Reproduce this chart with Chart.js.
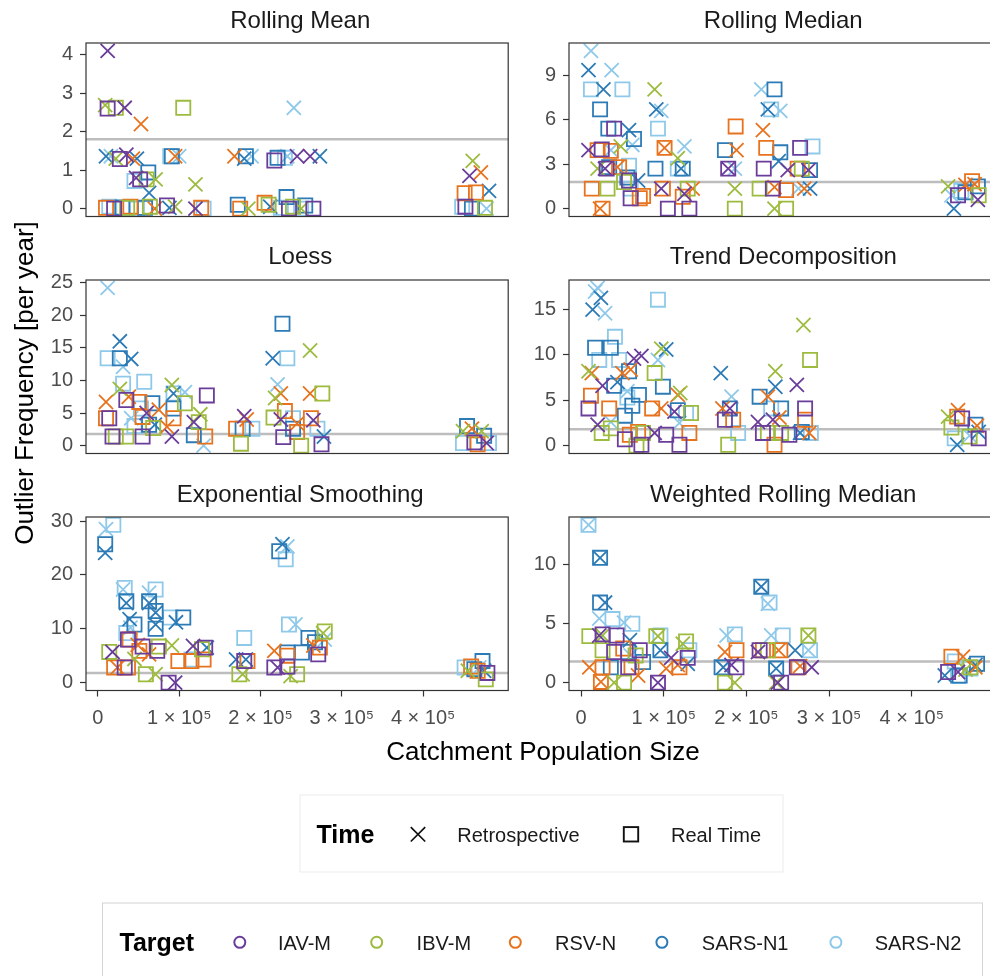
<!DOCTYPE html>
<html>
<head>
<meta charset="utf-8">
<title>Outlier Frequency by Catchment Population Size</title>
<script src="https://cdn.jsdelivr.net/npm/chart.js@4.4.1/dist/chart.umd.min.js"></script>
<style>
  html, body { margin: 0; padding: 0; background: #ffffff; }
  body { position: relative; width: 990px; height: 976px; overflow: hidden;
         font-family: "Liberation Sans", Arial, Helvetica, sans-serif; }
  .panel { position: absolute; }
  .panel canvas { display: block; }
  #overlay { position: absolute; left: 0; top: 0; pointer-events: none; }
</style>
</head>
<body>
<div id="panels"></div>
<svg id="overlay" width="990" height="976" xmlns="http://www.w3.org/2000/svg"></svg>
<script>
// ---------------------------------------------------------------------------
// Data
// ---------------------------------------------------------------------------
const targets = ['IAV-M', 'IBV-M', 'RSV-N', 'SARS-N1', 'SARS-N2'];
const times = ['Retrospective', 'Real Time'];
const methods = ['Rolling Mean', 'Rolling Median', 'Loess', 'Trend Decomposition',
                 'Exponential Smoothing', 'Weighted Rolling Median'];

// Reference outlier rate drawn as a horizontal line in every panel
const REFERENCE_RATE = 1.8;

// Axis ticks
const xTickValues = [0, 100000, 200000, 300000, 400000];
const xTickLabels = ['0', '1 \u00d7 10\u2075', '2 \u00d7 10\u2075', '3 \u00d7 10\u2075', '4 \u00d7 10\u2075'];
const yTickValues = [
  [0, 1, 2, 3, 4],
  [0, 3, 6, 9],
  [0, 5, 10, 15, 20, 25],
  [0, 5, 10, 15],
  [0, 10, 20, 30],
  [0, 5, 10]
];

// Rows: [target index, time index (0 retrospective, 1 real time),
//        catchment population (thousands), outliers per year]
const rollingMean = [
  [0,0,12,4.1],[1,0,9,2.69],[0,1,12,2.6],[1,1,22,2.62],[0,0,33,2.62],[1,1,105,2.62],
  [2,0,53,2.2],[4,0,241,2.62],
  [3,0,10,1.36],[4,0,16,1.36],[0,1,27,1.29],[0,0,35,1.4],[2,0,43,1.3],[3,0,48,1.3],
  [1,0,22,1.3],[3,1,91,1.36],[4,1,89,1.36],[2,0,95,1.36],[4,0,100,1.36],[2,0,168,1.36],
  [3,1,182,1.36],[4,0,189,1.36],[3,0,180,1.3],[0,1,217,1.25],[3,1,221,1.32],[4,1,230,1.32],
  [4,0,233,1.36],[0,0,245,1.36],[0,0,261,1.36],[3,0,273,1.36],
  [4,1,45,0.72],[0,1,52,0.76],[1,1,60,0.76],[3,1,62,0.94],[1,0,71,0.76],[3,0,63,0.41],
  [0,0,47,0.8],[1,0,120,0.63],
  [2,1,10,0.02],[4,1,14,0.05],[0,1,20,0],[3,1,30,0.03],[1,1,36,0.02],[2,1,40,0.05],
  [4,1,48,0],[3,1,58,0.02],[1,1,64,0.05],[2,0,70,0],[0,1,85,0.08],[3,0,88,0.02],
  [1,0,95,0.05],[0,0,120,0],[2,1,127,0.02],[4,1,130,0],[3,1,172,0.1],[2,1,175,0],
  [1,0,185,0],[2,1,205,0.15],[1,1,210,0.1],[3,0,212,0.05],[4,1,225,0.02],[3,1,232,0.3],
  [0,1,235,0],[1,1,240,0.05],[3,1,255,0.08],[4,1,250,0],[0,1,265,0],[1,0,250,0],
  [1,0,461,1.24],[2,0,471,0.94],[0,0,457,0.85],[3,0,481,0.46],[2,1,451,0.4],[2,1,465,0.42],
  [0,1,452,0.05],[3,1,460,0],[4,1,448,0.05],[1,1,476,0.02],[4,0,478,0]
];

const rollingMedian = [
  [4,0,12,10.65],[3,0,9,9.35],[4,0,37,9.35],[4,1,12,8.05],[3,0,27,8.05],[4,1,50,8.05],
  [1,0,89,8.05],[3,1,23,6.7],[3,0,91,6.7],[4,0,97,6.6],[3,1,33,5.4],[0,1,40,5.4],
  [3,0,58,5.3],[3,1,64,4.7],[4,0,62,4.3],[4,1,93,5.4],[0,0,9,3.95],[2,1,20,3.95],
  [0,1,25,4.0],[4,0,36,3.95],[1,0,48,4.2],[2,1,36,3.9],[2,1,101,4.1],[2,0,101,4.1],
  [1,0,117,3.4],[4,0,125,4.2],[3,1,174,3.95],[2,0,188,3.95],[2,1,187,5.55],[2,0,220,5.3],
  [2,1,224,4.1],[4,0,218,8.05],[3,1,234,8.05],[3,0,226,6.7],[4,1,230,6.7],[4,0,241,6.6],
  [3,1,241,3.8],[3,0,239,3.2],[0,1,265,4.1],[4,1,280,4.2],[0,0,250,2.6],[1,1,267,2.7],
  [0,0,275,2.6],[3,1,277,2.6],[2,1,262,2.7],[0,1,221,2.7],[2,0,270,1.35],[3,0,277,1.35],
  [4,0,263,1.35],[1,1,216,1.35],[0,1,232,1.35],[2,1,248,1.25],[2,0,234,1.45],[1,0,234,0],
  [1,1,248,0],[0,1,178,2.7],[4,0,186,2.7],[0,0,178,2.7],[1,0,186,1.35],[1,1,186,0],
  [2,1,13,1.35],[1,1,32,1.35],[2,0,23,0],[2,1,26,0],[0,0,29,2.7],[1,0,20,2.7],
  [0,1,31,2.7],[3,1,34,2.8],[2,0,44,2.8],[2,1,46,2.8],[4,1,58,2.9],[3,1,56,2.1],
  [0,1,58,1.9],[1,1,52,1.8],[3,0,69,1.9],[4,1,60,1.35],[0,1,60,0.7],[2,1,71,0.7],
  [2,1,75,0.85],[3,1,90,2.7],[0,0,97,1.35],[2,1,99,1.35],[4,1,117,2.7],[3,1,123,2.7],
  [3,0,121,2.7],[2,1,123,0.8],[0,0,125,1.0],[1,1,129,1.35],[2,0,135,1.35],[0,1,105,0],
  [0,1,131,0],
  [1,0,444,1.5],[2,1,473,1.85],[3,0,451,0],[0,0,480,0.6],[3,1,480,1.5],[4,0,448,0.9],
  [1,1,481,0.9],[0,1,456,0.9],[2,0,465,1.6],[4,1,460,1.2],[3,1,465,1.1],[2,0,476,1.65]
];

const loess = [
  [4,0,12,24.2],[3,0,27,16.0],[4,1,12,13.4],[3,1,27,13.4],[3,0,41,13.3],[4,0,31,12.1],
  [4,1,31,9.5],[4,1,57,9.8],[1,0,27,8.7],[2,0,10,6.7],[0,1,35,7.0],[2,0,38,7.5],
  [1,0,91,9.3],[3,0,93,8.0],[4,1,93,8.0],[4,0,107,8.2],[1,1,107,6.5],[0,1,134,7.7],
  [1,0,126,4.8],[3,1,93,5.7],[2,1,93,4.2],[2,0,75,5.5],[3,1,67,6.5],[2,1,51,6.7],
  [4,1,53,5.7],[0,0,60,5.0],[2,1,10,4.2],[0,1,14,4.2],[4,0,41,4.2],[2,1,55,4.4],
  [3,1,63,3.2],[1,1,68,2.7],[0,1,18,1.4],[1,1,22,1.4],[1,1,35,1.4],[0,1,55,1.4],
  [0,0,91,1.4],[3,1,118,1.6],[2,1,132,1.4],[4,0,130,0],[0,0,118,3.6],[1,1,124,3.6],
  [4,1,45,3.0],[3,0,70,3.2],[2,0,85,2.9],[0,0,180,4.5],[2,0,183,4.0],[2,1,170,2.6],
  [3,1,178,2.6],[4,1,190,2.6],[1,1,176,0.3],[2,0,225,8.0],[4,0,221,9.4],[3,0,215,13.4],
  [4,1,233,13.4],[3,1,227,18.7],[1,0,261,14.6],[2,0,261,8.0],[1,1,276,8.0],[1,0,218,7.3],
  [2,1,230,5.3],[1,1,216,4.3],[0,0,225,4.0],[4,1,240,4.2],[2,0,245,3.4],[0,1,228,1.3],
  [3,1,240,2.6],[2,1,245,2.1],[0,1,275,0.2],[1,1,250,0],[3,0,278,1.4],[4,1,270,2.6],
  [0,0,265,3.9],[2,1,262,4.2],
  [3,1,454,3.0],[2,0,460,2.6],[1,0,449,2.2],[4,1,449,0.4],[0,1,463,0.5],[4,1,481,0.4],
  [3,1,475,1.5],[2,1,467,0.2],[0,0,478,0.4],[1,0,472,2.2]
];

const trendDecomposition = [
  [4,0,20,17.4],[4,0,17,17.0],[3,0,24,16.3],[3,0,14,15.0],[4,0,29,14.6],[4,1,93,16.1],
  [1,0,269,13.3],[1,1,277,9.45],[3,1,17,10.8],[3,1,36,10.8],[4,1,41,12.0],[4,1,22,9.45],
  [4,1,46,9.45],[0,0,64,9.6],[0,0,73,9.9],[1,0,97,10.7],[3,0,103,10.6],[4,0,93,9.45],
  [1,0,9,8.2],[2,0,13,8.0],[2,0,50,8.0],[3,1,58,8.2],[1,1,89,8.0],[2,0,60,8.4],
  [0,0,26,6.6],[3,1,40,6.6],[3,0,44,7.0],[3,1,99,6.5],[4,0,56,6.0],[3,1,70,5.6],
  [4,1,56,5.3],[2,1,12,5.5],[2,0,117,5.6],[1,0,120,5.8],[0,1,9,4.1],[2,1,34,4.1],
  [3,1,62,4.4],[2,1,86,4.1],[2,0,97,4.1],[0,0,113,3.75],[3,1,117,3.9],[1,1,133,3.6],
  [4,1,127,3.6],[1,1,25,1.4],[1,1,36,1.9],[4,0,36,2.6],[0,0,20,2.3],[3,1,53,3.3],
  [2,1,59,1.2],[2,1,69,1.5],[1,1,75,1.4],[0,1,53,0.7],[0,1,73,0.1],[1,1,67,0],
  [0,0,89,1.4],[0,1,103,1.2],[0,1,119,0.1],[2,1,131,1.4],[4,0,119,2.5],
  [3,0,169,8.0],[4,0,182,5.4],[2,0,171,4.1],[3,1,180,4.1],[0,0,180,4.1],[0,1,174,2.85],
  [2,1,184,2.85],[4,1,190,1.4],[1,1,178,0.1],[1,0,235,8.2],[3,0,235,6.5],[2,0,226,5.4],
  [3,1,216,5.4],[4,1,230,4.1],[3,1,242,4.1],[2,0,240,3.1],[0,0,214,2.6],[0,0,232,2.85],
  [0,1,220,1.4],[1,1,226,1.4],[1,1,242,1.4],[0,1,252,1.2],[2,1,234,0.1],[0,0,261,6.7],
  [0,1,271,4.1],[2,1,271,2.85],[3,0,265,1.4],[4,1,278,1.4],[2,0,276,1.4],[3,1,267,1.5],
  [1,0,444,3.2],[2,0,456,3.9],[2,1,455,3.2],[0,1,461,3.0],[1,1,448,2.0],[4,1,452,0.8],
  [3,0,455,0.1],[3,1,477,2.3],[2,0,479,2.2],[4,0,470,1.1],[0,1,481,0.8],[3,0,481,1.5],
  [1,1,470,1.0]
];

const exponentialSmoothing = [
  [4,1,19,29.3],[4,0,10,28.5],[3,1,9,25.7],[3,0,9,24.1],[3,1,223,24.4],[3,0,227,25.7],
  [4,0,233,25.3],[4,1,231,22.9],[4,1,33,17.6],[4,0,31,17.3],[4,1,71,17.3],[4,0,63,16.7],
  [3,1,35,15.1],[3,0,35,14.8],[3,1,63,15.1],[3,0,63,14.8],[3,1,71,13.3],[3,0,71,13.0],
  [3,0,39,11.8],[3,1,45,10.8],[4,1,35,9.2],[4,0,40,10.2],[3,0,71,10.8],[3,1,71,10.0],
  [4,1,89,12.1],[3,1,105,12.1],[3,0,96,11.2],[2,1,39,8.0],[0,1,37,8.0],[2,0,49,7.0],
  [0,1,55,6.7],[2,1,51,5.9],[2,0,63,5.25],[0,1,73,5.9],[1,1,75,6.7],[1,0,91,6.9],
  [1,1,14,5.7],[0,0,18,5.7],[1,0,45,4.4],[2,1,20,2.8],[2,0,24,2.8],[0,1,33,2.8],
  [2,1,37,2.8],[1,1,59,1.55],[1,0,71,1.55],[0,1,87,0],[0,0,95,0],[2,1,99,4.0],
  [2,1,115,4.0],[4,1,115,4.3],[0,0,117,6.8],[3,0,134,6.5],[1,1,128,6.2],[2,1,130,4.3],
  [0,1,132,6.5],[4,1,180,8.3],[3,0,170,4.3],[0,1,180,4.0],[2,1,184,4.0],[3,0,182,4.3],
  [1,1,174,1.55],[1,0,178,1.55],[0,1,217,2.8],[0,0,221,2.8],[2,0,217,5.9],[3,1,233,5.6],
  [2,1,233,5.0],[0,1,233,3.0],[1,0,237,1.2],[1,1,245,1.55],[4,1,235,10.8],[4,0,243,10.8],
  [3,1,259,8.3],[3,1,251,5.6],[2,0,265,6.9],[0,1,271,5.25],[2,1,273,6.5],[1,1,279,9.5],
  [1,0,277,9.2],[4,0,279,8.0],[3,1,267,7.5],
  [4,1,451,2.8],[2,1,459,3.0],[3,1,473,4.0],[4,0,469,2.8],[1,1,477,0.6],[0,1,479,1.8],
  [2,1,467,2.2],[1,0,455,2.2],[3,0,475,2.2],[3,1,463,2.5]
];

const weightedRollingMedian = [
  [4,1,9,13.4],[4,0,9,13.4],[3,1,23,10.6],[3,0,23,10.6],[3,1,23,6.8],[3,0,29,6.8],
  [4,0,22,5.45],[4,1,38,5.4],[4,1,62,5.0],[4,0,52,5.1],[1,1,10,3.95],[0,0,22,4.0],
  [0,1,26,4.1],[1,0,26,4.0],[0,1,43,4.0],[3,0,59,3.6],[1,1,26,2.75],[0,1,40,2.6],
  [2,1,51,2.9],[3,1,57,2.6],[4,0,60,2.3],[0,1,71,2.75],[1,1,66,2.3],[3,1,75,1.75],
  [0,1,57,1.3],[2,0,69,0.6],[2,0,10,1.3],[2,1,26,1.3],[3,1,36,1.3],[2,1,24,0.06],
  [2,0,24,0.06],[1,0,40,0],[1,1,52,0],[2,1,61,1.3],[0,1,93,0],[0,0,93,0],
  [1,1,91,3.95],[1,0,93,3.95],[4,1,96,4.0],[3,1,96,2.75],[3,0,96,2.75],[2,0,103,1.2],
  [2,1,119,1.3],[2,0,117,1.5],[1,0,123,3.3],[1,1,127,3.5],[4,1,131,2.75],[0,1,129,2.1],
  [0,0,109,2.1],[3,0,129,1.6],[4,0,176,4.0],[4,1,186,4.1],[2,0,174,2.6],[2,1,188,2.75],
  [3,1,170,1.3],[3,0,172,1.3],[0,1,188,1.3],[0,0,182,1.5],[1,1,174,0],[1,0,186,0],
  [3,1,218,8.15],[3,0,218,8.15],[4,1,228,6.8],[4,0,226,6.7],[4,0,230,4.0],[4,1,244,4.0],
  [0,1,216,2.75],[0,0,214,2.6],[2,1,220,2.75],[1,1,226,2.75],[2,0,239,2.75],[2,1,241,2.75],
  [3,1,236,1.2],[3,0,236,1.2],[1,0,236,0],[0,0,238,0],[0,1,242,0],[1,1,275,4.0],
  [1,0,275,4.0],[3,0,259,2.75],[4,1,277,2.75],[4,0,275,2.75],[2,1,263,1.3],[2,0,265,1.4],
  [0,0,279,1.3],[0,1,261,1.3],
  [2,1,448,2.2],[4,1,452,1.8],[2,0,462,2.2],[0,1,444,0.9],[3,0,440,0.6],[4,1,456,0.55],
  [3,1,458,0.6],[1,1,471,1.3],[2,0,477,1.3],[3,1,479,1.6],[3,0,477,1.5],[0,0,456,0.9],
  [4,1,471,1.2],[1,0,465,1.1]
];

const panelData = [rollingMean, rollingMedian, loess, trendDecomposition,
                   exponentialSmoothing, weightedRollingMedian];

// ---------------------------------------------------------------------------
// Styling and layout
// ---------------------------------------------------------------------------
const FONT = '"Liberation Sans", Arial, Helvetica, sans-serif';
const targetColors = ['#6a3d9a', '#9dbb3f', '#e8731e', '#2c7bb6', '#8fc9ea'];
const timeShapes = ['crossRot', 'rect'];
const MARK_RADIUS = 10;
const MARK_STROKE = 1.8;

const ROW_TOP = [43, 280, 517];
const ROW_H = 173.5;
const COLS = [
  { canvasLeft: 0,   canvasW: 520, axisW: 86, areaRight: 514.5 },
  { canvasLeft: 520, canvasW: 490, axisW: 49, areaRight: 997.5 }
];
const PAD_V = 24;
const XAXIS_H = 50;
const TITLE_BASELINE = [28.3, 264.3, 501.7];

// ggplot-style 5% expansion of the data range
function expand(lo, hi) {
  const p = (hi - lo) * 0.05;
  return [lo - p, hi + p];
}

const allPops = panelData.flat().map(r => r[2] * 1000);
const [xMin, xMax] = expand(Math.min(...allPops), Math.max(...allPops));

const panelDecor = {
  id: 'panelDecor',
  beforeDatasetsDraw(chart) {
    const { ctx, chartArea: a, scales } = chart;
    const py = scales.y.getPixelForValue(REFERENCE_RATE);
    ctx.save();
    ctx.strokeStyle = '#bdbdbd';
    ctx.lineWidth = 2.5;
    ctx.beginPath();
    ctx.moveTo(a.left, py);
    ctx.lineTo(a.right, py);
    ctx.stroke();
    ctx.restore();
  },
  afterDatasetsDraw(chart) {
    const { ctx, chartArea: a } = chart;
    ctx.save();
    ctx.strokeStyle = '#333333';
    ctx.lineWidth = 1.2;
    ctx.strokeRect(a.left, a.top, a.right - a.left, a.bottom - a.top);
    ctx.restore();
  }
};

Chart.defaults.font.family = FONT;

const host = document.getElementById('panels');

panelData.forEach((rows, i) => {
  const row = Math.floor(i / 2);
  const col = COLS[i % 2];
  const isBottom = row === 2;
  const top = ROW_TOP[row] - PAD_V;
  const bottomSpace = isBottom ? XAXIS_H : PAD_V;
  const height = Math.ceil(PAD_V + ROW_H + bottomSpace);
  // any rounding slack goes to the bottom padding so the plot keeps its height
  const extra = height - (PAD_V + ROW_H + bottomSpace);

  const div = document.createElement('div');
  div.className = 'panel';
  div.style.left = col.canvasLeft + 'px';
  div.style.top = top + 'px';
  const canvas = document.createElement('canvas');
  canvas.width = col.canvasW;
  canvas.height = height;
  canvas.style.width = col.canvasW + 'px';
  canvas.style.height = height + 'px';
  div.appendChild(canvas);
  host.appendChild(div);

  const values = rows.map(r => r[3]);
  const [yMin, yMax] = expand(Math.min(...values), Math.max(...values));

  const datasets = [];
  targets.forEach((t, ti) => {
    times.forEach((tm, ki) => {
      datasets.push({
        label: t + ' ' + tm,
        data: rows.filter(r => r[0] === ti && r[1] === ki)
                  .map(r => ({ x: r[2] * 1000, y: r[3] })),
        pointStyle: timeShapes[ki],
        pointRadius: MARK_RADIUS,
        pointHoverRadius: MARK_RADIUS,
        pointBorderWidth: MARK_STROKE,
        borderColor: targetColors[ti],
        backgroundColor: 'rgba(0,0,0,0)',
        showLine: false
      });
    });
  });

  new Chart(canvas, {
    type: 'scatter',
    data: { datasets },
    plugins: [panelDecor],
    options: {
      responsive: false,
      animation: false,
      devicePixelRatio: 1,
      layout: {
        padding: {
          top: PAD_V,
          bottom: (isBottom ? 0 : PAD_V) + extra,
          left: 0,
          right: col.canvasW - col.areaRight
        }
      },
      plugins: { legend: { display: false }, tooltip: { enabled: false } },
      scales: {
        x: {
          type: 'linear',
          min: xMin,
          max: xMax,
          display: isBottom,
          afterBuildTicks: s => { s.ticks = xTickValues.map(v => ({ value: v })); },
          afterFit: s => { s.height = isBottom ? XAXIS_H : 0; },
          border: { display: false },
          grid: { drawOnChartArea: false, drawTicks: true, tickLength: 6,
                  tickColor: '#333333', tickWidth: 1.2 },
          ticks: {
            autoSkip: false, maxRotation: 0, padding: 10,
            color: '#4d4d4d', font: { size: 20, family: FONT },
            callback: (v, idx) => xTickLabels[idx]
          }
        },
        y: {
          type: 'linear',
          min: yMin,
          max: yMax,
          afterBuildTicks: s => { s.ticks = yTickValues[i].map(v => ({ value: v })); },
          afterFit: s => { s.width = col.axisW; },
          border: { display: false },
          grid: { drawOnChartArea: false, drawTicks: true, tickLength: 6,
                  tickColor: '#333333', tickWidth: 1.2 },
          ticks: {
            padding: 7, color: '#4d4d4d', font: { size: 20, family: FONT },
            callback: v => String(v)
          }
        }
      }
    }
  });
});

// ---------------------------------------------------------------------------
// Facet titles, axis titles and legends
// ---------------------------------------------------------------------------
const svg = document.getElementById('overlay');
const NS = 'http://www.w3.org/2000/svg';
function el(name, attrs, text) {
  const e = document.createElementNS(NS, name);
  for (const k in attrs) e.setAttribute(k, attrs[k]);
  if (text !== undefined) e.textContent = text;
  svg.appendChild(e);
  return e;
}

methods.forEach((m, i) => {
  const row = Math.floor(i / 2);
  const col = COLS[i % 2];
  const cx = (col.canvasLeft + col.axisW + col.areaRight) / 2;
  el('text', { x: cx, y: TITLE_BASELINE[row], 'text-anchor': 'middle',
               'font-family': FONT, 'font-size': 24, fill: '#1a1a1a' }, m);
});

el('text', { transform: 'translate(33,383) rotate(-90)', 'text-anchor': 'middle',
             'font-family': FONT, 'font-size': 26, fill: '#000' },
   'Outlier Frequency [per year]');
el('text', { x: 543, y: 760, 'text-anchor': 'middle',
             'font-family': FONT, 'font-size': 26, fill: '#000' },
   'Catchment Population Size');

// Time legend
el('rect', { x: 300, y: 795, width: 483, height: 77, fill: 'none',
             stroke: '#ebebeb', 'stroke-width': 1 });
el('text', { x: 316.5, y: 843.3, 'font-family': FONT, 'font-size': 25,
             'font-weight': 'bold', fill: '#000' }, 'Time');
const timeSymbolX = [418, 631];
const timeLabelX = [457.3, 671];
times.forEach((t, k) => {
  const cx = timeSymbolX[k], cy = 834.3, h = 7.2;
  if (k === 0) {
    el('path', { d: `M${cx - h},${cy - h}L${cx + h},${cy + h}M${cx - h},${cy + h}L${cx + h},${cy - h}`,
                 stroke: '#111', 'stroke-width': 1.7, fill: 'none' });
  } else {
    el('rect', { x: cx - h, y: cy - h, width: 2 * h, height: 2 * h,
                 stroke: '#111', 'stroke-width': 1.9, fill: 'none' });
  }
  el('text', { x: timeLabelX[k], y: 841.7, 'font-family': FONT, 'font-size': 20,
               fill: '#1a1a1a' }, t);
});

// Target legend
el('rect', { x: 102.5, y: 903, width: 880, height: 100, fill: 'none',
             stroke: '#d4d4d4', 'stroke-width': 1 });
el('text', { x: 119.5, y: 951.3, 'font-family': FONT, 'font-size': 25,
             'font-weight': 'bold', fill: '#000' }, 'Target');
const targetSymbolX = [239.8, 376.7, 515.3, 661.9, 835.9];
const targetLabelX = [278, 416.6, 555, 701.8, 874.7];
targets.forEach((t, ti) => {
  el('circle', { cx: targetSymbolX[ti], cy: 942.3, r: 5.5, fill: 'none',
                 stroke: targetColors[ti], 'stroke-width': 2 });
  el('text', { x: targetLabelX[ti], y: 949.7, 'font-family': FONT, 'font-size': 20,
               fill: '#1a1a1a' }, t);
});
</script>
</body>
</html>
